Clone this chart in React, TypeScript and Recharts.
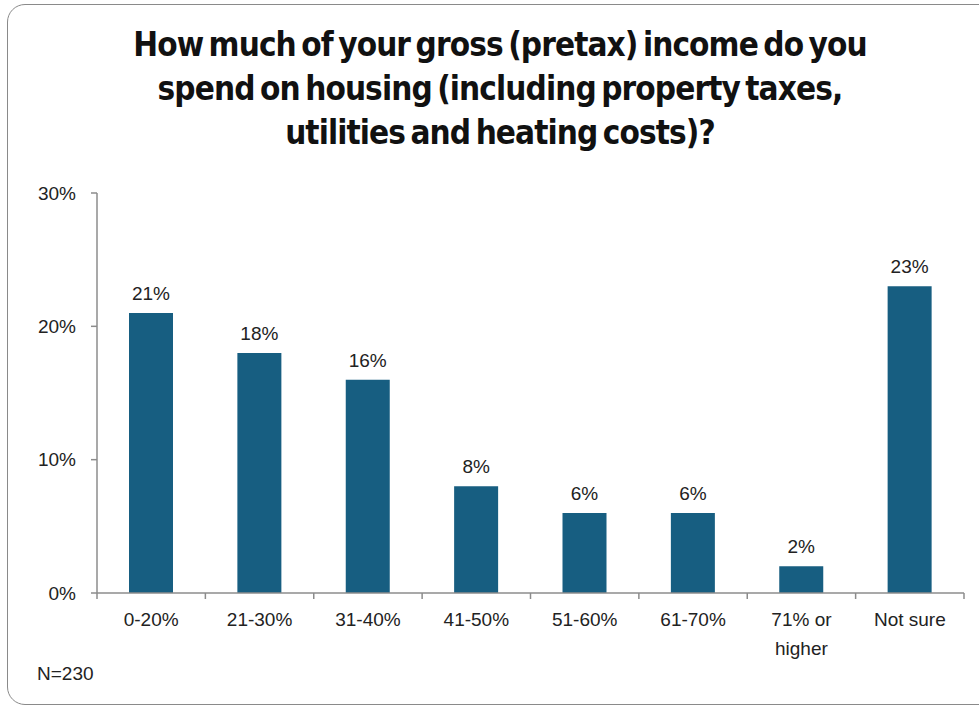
import React from "react";
import { BarChart, Bar, XAxis, YAxis, LabelList, Text } from "recharts";

const categories = ["0-20%", "21-30%", "31-40%", "41-50%", "51-60%", "61-70%", "71% or higher", "Not sure"];
const values = [21, 18, 16, 8, 6, 6, 2, 23];
const yTicks = [0, 10, 20, 30];
const titleLines = [
  "How much of your gross (pretax) income do you",
  "spend on housing (including property taxes,",
  "utilities and heating costs)?",
];
const note = "N=230";

const data = categories.map((c, i) => ({ name: c, value: values[i] }));

const AXIS = "#8c8c8c";
const BAR = "#175e81";
const LABEL_FONT = "'Liberation Sans', Arial, sans-serif";

const XTick = (props: any) => {
  const { x, y, payload, index } = props;
  const half = payload.offset || 0;
  const last = index === categories.length - 1;
  return (
    <g>
      <line x1={x - half} x2={x - half} y1={y - 8} y2={y - 2} stroke={AXIS} strokeWidth={1.5} />
      {last && <line x1={x + half} x2={x + half} y1={y - 8} y2={y - 2} stroke={AXIS} strokeWidth={1.5} />}
      <Text x={x} y={y + 12} width={90} textAnchor="middle" verticalAnchor="start" lineHeight={29}
        style={{ fontFamily: LABEL_FONT, fontSize: 19, fill: "#222" }}>
        {payload.value}
      </Text>
    </g>
  );
};

export default function App() {
  return (
    <div style={{ position: "absolute", left: 0, top: 0, width: 979, height: 709, background: "#fff", overflow: "hidden" }}>
      <div style={{ position: "absolute", left: 7, top: 4, width: 990, height: 701, border: "1.5px solid #8a8a8a", borderRadius: 18, boxSizing: "border-box" }} />
      <div style={{ position: "absolute", left: 0, top: 23, width: 1000, textAlign: "center", fontFamily: "'Liberation Sans Narrow', 'DejaVu Sans Condensed', sans-serif", fontWeight: 700, fontSize: 33, lineHeight: "44px", color: "#111", letterSpacing: -0.9, wordSpacing: -4 }}>
        {titleLines.map((l, i) => <div key={i}>{l}</div>)}
      </div>
      <div style={{ position: "absolute", left: 37, top: 663, fontFamily: LABEL_FONT, fontSize: 19, color: "#222" }}>{note}</div>
      <div style={{ position: "absolute", left: 0, top: 0 }}>
        <BarChart width={979} height={709} data={data} margin={{ top: 193, right: 15, left: 37, bottom: 86 }}>
          <YAxis width={60} domain={[0, 30]} ticks={yTicks} tickFormatter={(v: number) => `${v}%`}
            axisLine={{ stroke: AXIS, strokeWidth: 1.5 }} tickLine={{ stroke: AXIS, strokeWidth: 1.5 }}
            tickSize={6} tickMargin={15} tick={{ fontFamily: LABEL_FONT, fontSize: 19, fill: "#222" }} />
          <XAxis dataKey="name" height={30} interval={0} axisLine={{ stroke: AXIS, strokeWidth: 1.5 }}
            tickLine={false} tick={<XTick />} />
          <Bar dataKey="value" fill={BAR} barSize={44} isAnimationActive={false}>
            <LabelList dataKey="value" position="top" offset={13} formatter={(v: any) => `${v}%`}
              style={{ fontFamily: LABEL_FONT, fontSize: 19, fill: "#222" }} />
          </Bar>
        </BarChart>
      </div>
    </div>
  );
}
